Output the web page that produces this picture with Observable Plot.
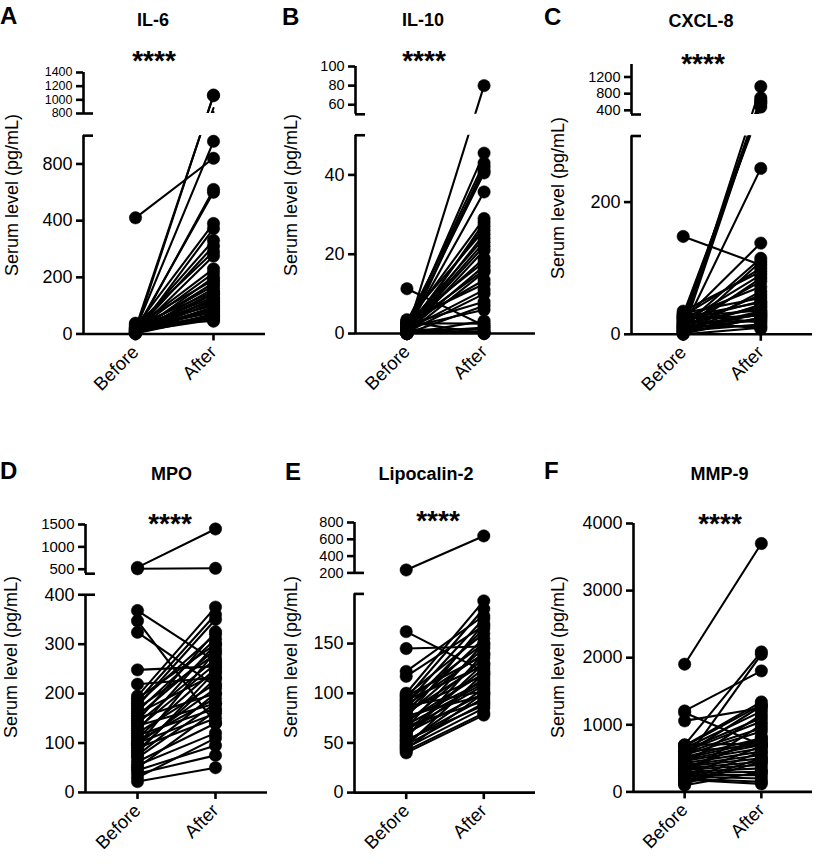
<!DOCTYPE html>
<html><head><meta charset="utf-8">
<script src="https://cdn.jsdelivr.net/npm/d3@7"></script>
<script src="https://cdn.jsdelivr.net/npm/@observablehq/plot@0.6"></script>
<style>
html,body{margin:0;padding:0;background:#fff;}
#fig{position:relative;width:816px;height:864px;font-family:"Liberation Sans",Arial,sans-serif;color:#000;overflow:hidden;background:#fff;}
.abs{position:absolute;line-height:1;white-space:nowrap;}
.letter{font-weight:bold;font-size:24px;}
.title{font-weight:bold;font-size:18px;transform:translateX(-50%);}
.stars{font-weight:bold;font-size:28px;transform:translateX(-50%);}
.ylab{font-size:18px;transform:translate(-50%,-50%) rotate(-90deg);}
.plotbox{position:absolute;}
</style></head>
<body><div id="fig"></div>
<script>
// ---------- data ----------
const categories = ["Before", "After"];

const il6Before = [420, 8, 20, 15, 5, 12, 25, 3, 18, 10, 30, 6, 22, 14, 2, 35, 9, 16, 4, 28, 11, 7, 20, 1, 13, 24, 5, 17, 32, 8, 3, 19, 12, 26, 6, 15, 2, 21, 9, 38, 4];
const il6After  = [820, 1070, 1060, 880, 620, 600, 390, 372, 330, 310, 290, 275, 230, 215, 200, 190, 180, 170, 160, 150, 145, 140, 130, 125, 120, 115, 110, 105, 100, 95, 90, 85, 80, 75, 70, 65, 60, 55, 50, 45, 62];

const il10Before = [11.3, 0.5, 1, 2, 0, 3, 1.5, 0.8, 2.5, 0, 1.2, 3.5, 0.3, 2, 1, 0, 2.8, 0.6, 1.8, 0, 3.2, 1, 0.4, 2.2, 0, 1.5, 0, 2.6, 0.2, 1, 0, 3, 0, 0.7, 1.4, 0.9, 2.3];
const il10After  = [2, 80, 45.5, 43, 42, 41, 40.5, 35.7, 29, 28, 27, 26, 25, 24, 23, 21, 18, 17, 16, 15.5, 12.5, 11, 10, 8, 7, 6, 3.2, 2.5, 1.5, 1, 0.5, 0, 0, 0.2, 19, 22, 13.5];

const cxcl8Before = [148, 10, 20, 5, 15, 25, 30, 8, 22, 12, 3, 28, 35, 18, 6, 14, 25, 2, 10, 32, 20, 7, 16, 27, 4, 12, 24, 1, 9, 18, 30, 5, 13, 0, 22, 8, 15, 26, 3, 11];
const cxcl8After  = [105, 972, 700, 640, 600, 560, 480, 251, 138, 115, 110, 100, 95, 90, 85, 80, 72, 65, 60, 55, 50, 45, 40, 36, 33, 30, 28, 25, 22, 20, 18, 15, 12, 10, 8, 35, 42, 48, 25, 30];

const mpoBefore = [540, 510, 368, 347, 324, 248, 219, 195, 190, 185, 180, 175, 170, 165, 160, 155, 150, 145, 140, 135, 130, 125, 120, 115, 110, 105, 100, 98, 95, 90, 85, 80, 75, 70, 62, 55, 50, 45, 38, 30, 22];
const mpoAfter  = [1400, 520, 265, 140, 215, 255, 232, 375, 300, 360, 320, 350, 280, 310, 240, 290, 200, 325, 270, 180, 260, 300, 220, 170, 250, 190, 160, 210, 285, 150, 230, 245, 200, 180, 140, 120, 165, 95, 75, 110, 50];

const lcn2Before = [235, 162, 145, 122, 117, 100, 98, 95, 92, 90, 88, 85, 82, 80, 78, 75, 72, 70, 68, 65, 62, 60, 58, 55, 52, 50, 48, 45, 42, 40, 44, 47, 53, 57, 63, 67, 73, 77, 83, 87, 93, 97];
const lcn2After  = [640, 122, 147, 178, 168, 193, 160, 185, 150, 175, 140, 165, 155, 130, 145, 170, 120, 135, 110, 150, 125, 100, 115, 140, 95, 105, 90, 85, 80, 78, 100, 120, 88, 130, 108, 92, 112, 98, 118, 102, 128, 138];

const mmp9Before = [1903, 1207, 1180, 1058, 700, 450, 690, 680, 650, 620, 600, 580, 550, 520, 500, 480, 460, 430, 400, 380, 350, 330, 300, 280, 250, 230, 200, 180, 160, 140, 120, 100, 350, 420, 270, 310, 240, 560, 600, 700];
const mmp9After  = [3702, 1803, 700, 1250, 2086, 2050, 1341, 1300, 1200, 1100, 1050, 950, 900, 800, 750, 700, 650, 600, 550, 500, 450, 400, 350, 300, 250, 200, 150, 120, 600, 500, 450, 300, 780, 1150, 1000, 820, 680, 1280, 700, 720];

// tick values (axis labels)
const il6BottomTicks = [0, 200, 400, 800],  il6TopTicks = [800, 1000, 1200, 1400];
const il10BottomTicks = [0, 20, 40],        il10TopTicks = [60, 80, 100];
const cxcl8BottomTicks = [0, 200],          cxcl8TopTicks = [400, 800, 1200];
const mpoBottomTicks = [0, 100, 200, 300, 400], mpoTopTicks = [500, 1000, 1500];
const lcn2BottomTicks = [0, 50, 100, 150],  lcn2TopTicks = [200, 400, 600, 800];
const mmp9Ticks = [0, 1000, 2000, 3000, 4000];

const panels = [
  {letter: "A", title: "IL-6", before: il6Before, after: il6After, bottomDomain: [0, 200, 400, 800, 900], bottomTicks: il6BottomTicks, topDomain: [800, 1400], topTicks: il6TopTicks},
  {letter: "B", title: "IL-10", before: il10Before, after: il10After, bottomDomain: [0, 50], bottomTicks: il10BottomTicks, topDomain: [50, 100], topTicks: il10TopTicks},
  {letter: "C", title: "CXCL-8", before: cxcl8Before, after: cxcl8After, bottomDomain: [0, 300], bottomTicks: cxcl8BottomTicks, topDomain: [300, 1500], topTicks: cxcl8TopTicks},
  {letter: "D", title: "MPO", before: mpoBefore, after: mpoAfter, bottomDomain: [0, 400], bottomTicks: mpoBottomTicks, topDomain: [400, 1500], topTicks: mpoTopTicks},
  {letter: "E", title: "Lipocalin-2", before: lcn2Before, after: lcn2After, bottomDomain: [0, 200], bottomTicks: lcn2BottomTicks, topDomain: [200, 800], topTicks: lcn2TopTicks},
  {letter: "F", title: "MMP-9", before: mmp9Before, after: mmp9After, bottomDomain: [0, 4000], bottomTicks: mmp9Ticks, topDomain: null, topTicks: null}
];
const significance = "****";
const yLabel = "Serum level (pg/mL)";

// ---------- layout (page pixels) ----------
const layout = [
  {left: 0,   axisX: 83,  right: 265, rowBottom: 430, bottomPx: [333.3, 276.7, 220, 163.3, 135], topPx: [112.7, 71.7], topFont: 12.5, letterPos: [0, 4], titlePos: [153, 10.5], starsPos: [154, 46.5], ylabPos: [12, 195]},
  {left: 272, axisX: 355, right: 535, rowBottom: 430, bottomPx: [333.3, 135], topPx: [113.5, 65.7], topFont: 14.5, letterPos: [282, 5], titlePos: [423, 10.5], starsPos: [424, 46.5], ylabPos: [291, 195]},
  {left: 544, axisX: 631, right: 812, rowBottom: 430, bottomPx: [333.3, 135], topPx: [114, 64], topFont: 14.5, letterPos: [544, 5], titlePos: [701, 11.5], starsPos: [703, 49.5], ylabPos: [557.5, 198]},
  {left: 0,   axisX: 85,  right: 267, rowBottom: 864, bottomPx: [791.7, 594], topPx: [573.5, 524.3], topFont: 15, letterPos: [0, 459], titlePos: [171.5, 464.5], starsPos: [170, 509.5], ylabPos: [11, 657]},
  {left: 272, axisX: 354, right: 535, rowBottom: 864, bottomPx: [792.2, 593.5], topPx: [572.7, 522.3], topFont: 14.5, letterPos: [285, 460], titlePos: [426, 465], starsPos: [438, 506.5], ylabPos: [291, 657]},
  {left: 544, axisX: 633, right: 812, rowBottom: 864, bottomPx: [791.7, 523.3], topPx: null, topFont: null, letterPos: [544, 459], titlePos: [719.5, 465], starsPos: [720, 510], ylabPos: [558, 657]}
];
const panelWidth = 272;
const xDomain = [-2 / 3, 5 / 3];
const breakMarkPx = 10;
const fontFamily = '"Liberation Sans", Arial, sans-serif';

const fig = document.getElementById("fig");

function addText(cls, txt, x, y) {
  const d = document.createElement("div");
  d.className = "abs " + cls;
  d.textContent = txt;
  d.style.left = x + "px";
  d.style.top = y + "px";
  fig.appendChild(d);
}

function uniqSorted(pts) {
  const m = new Map();
  for (const [v, p] of pts) if (!m.has(v)) m.set(v, p);
  return Array.from(m, ([v, p]) => [v, p]).sort((a, b) => a[0] - b[0]);
}

panels.forEach((p, k) => {
  const L = layout[k];
  const rows = p.before.flatMap((b, i) => [
    {id: i, xi: 0, value: b},
    {id: i, xi: 1, value: p.after[i]}
  ]);
  const bMax = d3.max(p.bottomDomain);
  const bottomLin = d3.scaleLinear(p.bottomDomain, L.bottomPx);
  const topLin = p.topDomain ? d3.scaleLinear(p.topDomain, L.topPx) : null;
  const plotW = L.right - L.axisX;
  const markLen = breakMarkPx * (xDomain[1] - xDomain[0]) / plotW;
  const marginLeft = L.axisX - L.left;
  const marginRight = L.left + panelWidth - L.right;
  const frameBottomBottom = d3.max(L.bottomPx), frameBottomTop = d3.min(L.bottomPx);

  const split = topLin ? (d3.max(L.topPx) + frameBottomTop) / 2 : frameBottomTop - 16;
  const baseStyle = {background: "transparent", overflow: "visible", fontFamily, fontSize: "18px", color: "#000"};

  // ---- bottom segment ----
  {
    let pts = p.bottomDomain.map((v, i) => [v, L.bottomPx[i]]);
    if (topLin) {
      for (const v of p.topTicks.concat(p.topDomain)) if (v > bMax) pts.push([v, topLin(v)]);
    }
    pts = uniqSorted(pts);
    const svgTop = split, svgH = L.rowBottom - split;
    const marks = [
      Plot.line(rows, {x: "xi", y: "value", z: "id", stroke: "#000", strokeWidth: 2.1, clip: true}),
      Plot.dot(rows.filter(r => r.value <= bMax), {x: "xi", y: "value", r: 6.2, fill: "#000", stroke: "#000", strokeWidth: 0.5}),
      Plot.ruleX([xDomain[0]], {stroke: "#000", strokeWidth: 2.6}),
      Plot.ruleY([0], {stroke: "#000", strokeWidth: 2.6}),
      Plot.axisY({ticks: p.bottomTicks, tickSize: 7, tickPadding: 4, tickFormat: d3.format("d"), strokeWidth: 2.6, fontSize: 18, label: null}),
      Plot.axisX({ticks: [0, 1], tickSize: 7, tickPadding: 8, tickFormat: i => categories[i], tickRotate: -45, strokeWidth: 2.6, fontSize: 18.5, label: null})
    ];
    if (topLin) marks.push(Plot.ruleY([bMax], {x1: xDomain[0], x2: xDomain[0] + markLen, stroke: "#000", strokeWidth: 2.6}));
    const svg = Plot.plot({
      width: panelWidth, height: svgH,
      marginLeft, marginRight,
      marginTop: frameBottomTop - svgTop, marginBottom: L.rowBottom - frameBottomBottom,
      style: baseStyle,
      x: {type: "linear", domain: xDomain, axis: null},
      y: {type: "linear", domain: pts.map(d => d[0]), range: pts.map(d => d[1] - svgTop), axis: null},
      marks
    });
    const box = document.createElement("div");
    box.className = "plotbox";
    box.style.left = L.left + "px";
    box.style.top = svgTop + "px";
    box.appendChild(svg);
    fig.appendChild(box);
  }

  // ---- top segment ----
  if (topLin) {
    const tMin = d3.min(p.topDomain);
    let pts = p.bottomTicks.concat(p.bottomDomain).filter(v => v < tMin).map(v => [v, bottomLin(v)]);
    for (const v of p.topDomain.concat(p.topTicks)) pts.push([v, topLin(v)]);
    pts = uniqSorted(pts);
    const frameTop = d3.min(L.topPx), frameBot = d3.max(L.topPx);
    const svgTop = frameTop - 16, svgH = split - svgTop;
    const marks = [
      Plot.line(rows, {x: "xi", y: "value", z: "id", stroke: "#000", strokeWidth: 2.1, clip: true}),
      Plot.dot(rows.filter(r => r.value > bMax), {x: "xi", y: "value", r: 6.2, fill: "#000", stroke: "#000", strokeWidth: 0.5}),
      Plot.ruleX([xDomain[0]], {stroke: "#000", strokeWidth: 2.6}),
      Plot.ruleY([tMin], {x1: xDomain[0], x2: xDomain[0] + markLen, stroke: "#000", strokeWidth: 2.6}),
      Plot.axisY({ticks: p.topTicks, tickSize: 7, tickPadding: 4, tickFormat: d3.format("d"), strokeWidth: 2.6, fontSize: L.topFont, label: null})
    ];
    const svg = Plot.plot({
      width: panelWidth, height: svgH,
      marginLeft, marginRight,
      marginTop: frameTop - svgTop, marginBottom: split - frameBot,
      style: baseStyle,
      x: {type: "linear", domain: xDomain, axis: null},
      y: {type: "linear", domain: pts.map(d => d[0]), range: pts.map(d => d[1] - svgTop), axis: null},
      marks
    });
    const box = document.createElement("div");
    box.className = "plotbox";
    box.style.left = L.left + "px";
    box.style.top = svgTop + "px";
    box.appendChild(svg);
    fig.appendChild(box);
  }

  addText("letter", p.letter, L.letterPos[0], L.letterPos[1]);
  addText("title", p.title, L.titlePos[0], L.titlePos[1]);
  addText("stars", significance, L.starsPos[0], L.starsPos[1]);
  addText("ylab", yLabel, L.ylabPos[0], L.ylabPos[1]);
});
</script>
</body></html>
